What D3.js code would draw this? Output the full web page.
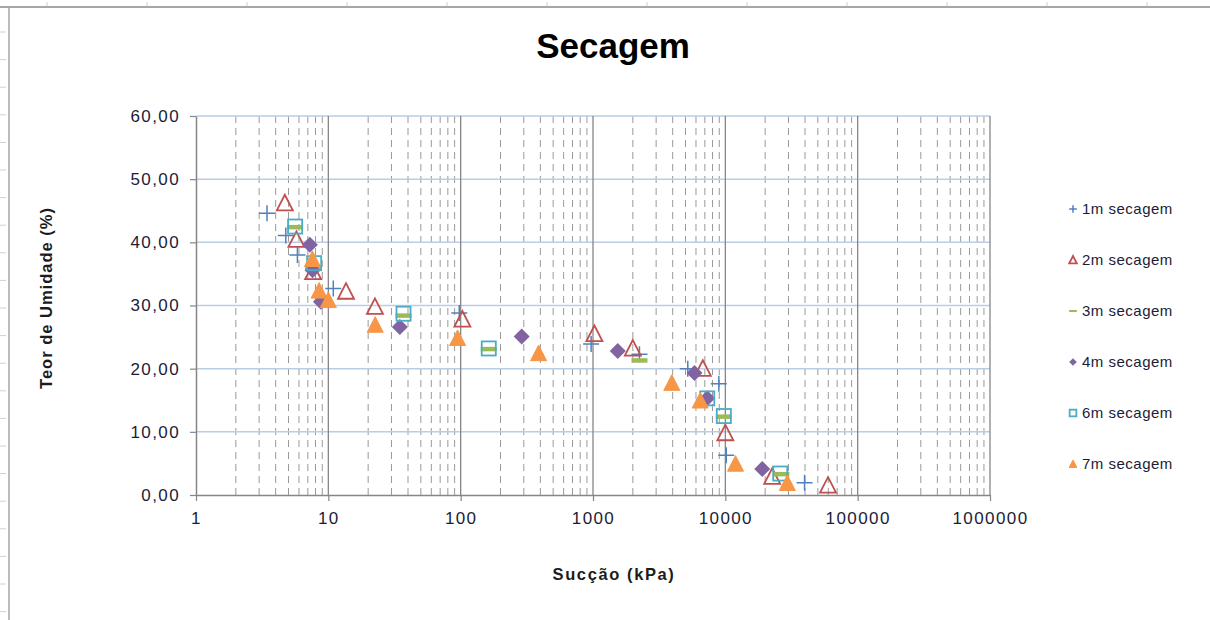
<!DOCTYPE html>
<html>
<head>
<meta charset="utf-8">
<script src="https://cdn.jsdelivr.net/npm/d3@7"></script>
<style>
  body { margin: 0; background: #fff; }
  text { font-family: "Liberation Sans", Arial, sans-serif; }
</style>
</head>
<body>
<div id="chart"></div>
<script>
// series names and styles of the legend
let seriesNames = ["1m secagem", "2m secagem", "3m secagem", "4m secagem", "6m secagem", "7m secagem"]
let seriesColor = ["#4F81BD", "#C0504D", "#9BBB59", "#8064A2", "#4BACC6", "#F79646"]
let seriesShape = ["plus", "triangleOpen", "dash", "diamond", "squareOpen", "triangle"]

// succao (kPa) and teor de umidade (%)
let suc1m = [3.44, 4.77, 5.84, 10.9, 97.6, 968, 2244, 5203, 8930, 10160, 39700]
let teor1m = [44.6, 41.1, 38.0, 32.7, 28.8, 23.9, 22.3, 20.0, 17.6, 6.3, 1.95]

let suc2m = [4.69, 5.74, 7.67, 13.6, 22.5, 103, 1025, 1999, 6760, 10000, 22600, 59700]
let teor2m = [46.2, 40.4, 35.3, 32.2, 29.8, 27.8, 25.5, 23.2, 20.0, 9.8, 2.9, 1.5]

let suc3m = [5.61, 7.67, 37.0, 163, 2244, 9740, 26500]
let teor3m = [42.4, 36.0, 28.4, 23.1, 21.3, 12.4, 3.3]

let suc4m = [7.25, 7.6, 8.78, 34.7, 289, 1538, 5850, 7300, 19000]
let teor4m = [39.6, 35.6, 30.6, 26.6, 25.1, 22.8, 19.3, 15.3, 4.1]

let suc6m = [5.61, 7.81, 37.0, 163, 7300, 9740, 26000]
let teor6m = [42.5, 36.7, 28.7, 23.2, 15.3, 12.5, 3.4]

let suc7m = [7.58, 8.52, 10.0, 22.6, 94.8, 388, 3940, 6460, 11940, 29400]
let teor7m = [37.3, 32.3, 30.8, 26.9, 24.8, 22.4, 17.7, 14.9, 4.9, 1.85]

let xTicks = [1, 10, 100, 1000, 10000, 100000, 1000000]
let yTicks = [0, 10, 20, 30, 40, 50, 60]

let allSuc = [suc1m, suc2m, suc3m, suc4m, suc6m, suc7m]
let allTeor = [teor1m, teor2m, teor3m, teor4m, teor6m, teor7m]

let W = 1210, H = 620
let plot = { left: 196, right: 990, top: 116, bottom: 495 }

let svg = d3.select("#chart").append("svg")
    .attr("width", W).attr("height", H)

// spreadsheet frame bits
svg.append("line").attr("x1", 0).attr("x2", W).attr("y1", 7).attr("y2", 7)
    .attr("stroke", "#a6a6a6").attr("stroke-width", 2)
svg.append("line").attr("x1", 9).attr("x2", 9).attr("y1", 7).attr("y2", H)
    .attr("stroke", "#a6a6a6").attr("stroke-width", 1.5)
for (let k = 0; k < 12; k++) {
    svg.append("line").attr("x1", 47 + k * 100).attr("x2", 47 + k * 100).attr("y1", 2).attr("y2", 6)
        .attr("stroke", "#d0d0d0")
}
for (let yy = 32; yy < H; yy += 27.6) {
    svg.append("line").attr("x1", 0).attr("x2", 6).attr("y1", yy).attr("y2", yy)
        .attr("stroke", "#d0d0d0")
}

let x = d3.scaleLog().domain([1, 1000000]).range([plot.left, plot.right])
let y = d3.scaleLinear().domain([0, 60]).range([plot.bottom, plot.top])

// minor vertical grid (dashed)
let minor = []
for (let d = 1; d < 1000000; d *= 10) {
    for (let m = 2; m <= 9; m++) minor.push(d * m)
}
svg.append("g").selectAll("line").data(minor).enter().append("line")
    .attr("x1", d => x(d)).attr("x2", d => x(d))
    .attr("y1", plot.top).attr("y2", plot.bottom)
    .attr("stroke", "#999").attr("stroke-width", 1)
    .attr("stroke-dasharray", "7,5")

// horizontal grid
svg.append("g").selectAll("line").data(yTicks.slice(1)).enter().append("line")
    .attr("x1", plot.left).attr("x2", plot.right)
    .attr("y1", d => y(d)).attr("y2", d => y(d))
    .attr("stroke", "#b9cde5").attr("stroke-width", 1.5)

// major vertical grid
svg.append("g").selectAll("line").data(xTicks.slice(1)).enter().append("line")
    .attr("x1", d => x(d)).attr("x2", d => x(d))
    .attr("y1", plot.top).attr("y2", plot.bottom)
    .attr("stroke", "#868686").attr("stroke-width", 1.3)

// axes
let xAxis = d3.axisBottom(x).tickValues(xTicks).tickFormat(d3.format("d")).tickSize(6).tickSizeOuter(0)
let gx = svg.append("g").attr("transform", "translate(0," + plot.bottom + ")").call(xAxis)
let yAxis = d3.axisLeft(y).tickValues(yTicks)
    .tickFormat(d => d3.format(".2f")(d).replace(".", ",")).tickSize(6).tickSizeOuter(0)
let gy = svg.append("g").attr("transform", "translate(" + plot.left + ",0)").call(yAxis)

for (let g of [gx, gy]) {
    g.select(".domain").attr("stroke", "#868686").attr("stroke-width", 1.5)
    g.selectAll(".tick line").attr("stroke", "#868686").attr("stroke-width", 1.2)
    g.selectAll(".tick text").attr("fill", "#1c1c38")
        .style("font-size", "17px").style("letter-spacing", "1.4px")
}
gx.selectAll(".tick text").attr("dy", "1.2em")
gy.selectAll(".tick text").attr("x", -16)

// titles
svg.append("text").attr("x", 613).attr("y", 58).attr("text-anchor", "middle")
    .style("font-size", "35px").style("font-weight", "bold").text("Secagem")
svg.append("text").attr("x", 614).attr("y", 580).attr("text-anchor", "middle")
    .style("font-size", "16.5px").style("font-weight", "bold").style("letter-spacing", "1.6px")
    .attr("fill", "#1c1c1c").text("Sucção (kPa)")
svg.append("text").attr("transform", "translate(52,298) rotate(-90)").attr("text-anchor", "middle")
    .style("font-size", "16.5px").style("font-weight", "bold").style("letter-spacing", "1px")
    .attr("fill", "#1c1c1c").text("Teor de Umidade (%)")

function drawMarker(g, shape, color, s) {
    if (shape == "plus") {
        g.append("path").attr("d", `M${-s},0H${s}M0,${-s}V${s}`)
            .attr("stroke", color).attr("stroke-width", 1.5).attr("fill", "none")
    } else if (shape == "triangleOpen" || shape == "triangle") {
        let h = s * 1.05
        g.append("path").attr("d", `M0,${-h}L${s},${h * 0.85}L${-s},${h * 0.85}Z`)
            .attr("stroke", color).attr("stroke-width", shape == "triangle" ? 1 : 1.8)
            .attr("fill", shape == "triangle" ? color : "none")
    } else if (shape == "dash") {
        g.append("rect").attr("x", -s).attr("y", -s * 0.28).attr("width", 2 * s).attr("height", s * 0.56)
            .attr("fill", color)
    } else if (shape == "diamond") {
        let d = s
        g.append("path").attr("d", `M0,${-d}L${d},0L0,${d}L${-d},0Z`).attr("fill", color)
    } else if (shape == "squareOpen") {
        let q = s * 0.88
        g.append("rect").attr("x", -q).attr("y", -q).attr("width", 2 * q).attr("height", 2 * q)
            .attr("stroke", color).attr("stroke-width", 1.8).attr("fill", "none")
    }
}

// points
for (let i = 0; i < seriesNames.length; i++) {
    let pts = allSuc[i].map((s, j) => [s, allTeor[i][j]])
    let g = svg.append("g")
    g.selectAll("g").data(pts).enter().append("g")
        .attr("transform", d => "translate(" + x(d[0]) + "," + y(d[1]) + ")")
        .each(function () { drawMarker(d3.select(this), seriesShape[i], seriesColor[i], 8) })
}

// legend
let legendY = [209, 260, 311, 362, 413, 464]
for (let i = 0; i < seriesNames.length; i++) {
    let lg = svg.append("g").attr("transform", "translate(1073," + legendY[i] + ")")
    drawMarker(lg, seriesShape[i], seriesColor[i], 3.8)
    lg.append("text").attr("x", 9).attr("y", 5).style("font-size", "15px")
        .style("letter-spacing", "0.5px").attr("fill", "#1c1c38").text(seriesNames[i])
}
</script>
</body>
</html>
